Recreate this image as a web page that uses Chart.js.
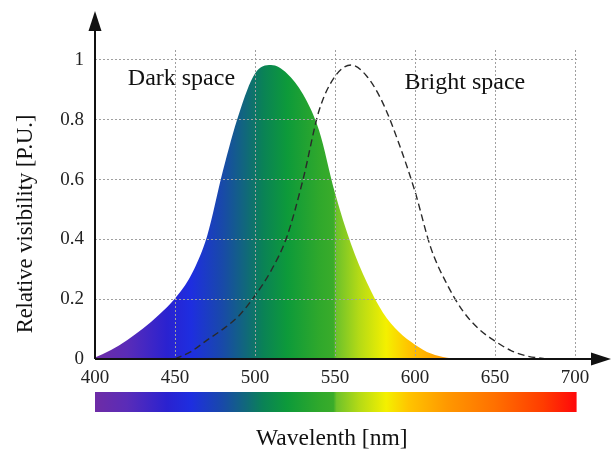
<!DOCTYPE html>
<html><head><meta charset="utf-8">
<script src="https://cdn.jsdelivr.net/npm/chart.js@4.4.1/dist/chart.umd.min.js"></script>
<style>html,body{margin:0;padding:0;background:#fff;overflow:hidden}</style>
</head><body>
<canvas id="c" width="611" height="452"></canvas>
<script>
// ---- data ----
const wavelengths = [400,410,420,430,440,450,460,470,480,490,500,510,520,530,540,550,560,570,580,590,600,610,620,630,640,650,660,670,680,690,700];
const darkSpace   = [0.005,0.030,0.063,0.102,0.148,0.202,0.280,0.410,0.630,0.820,0.955,0.983,0.955,0.885,0.765,0.555,0.385,0.255,0.155,0.090,0.048,0.018,0.004,0,null,null,null,null,null,null,null];
const brightSpace = [null,null,null,null,null,0,0.025,0.063,0.100,0.145,0.212,0.295,0.410,0.600,0.830,0.945,0.983,0.945,0.855,0.720,0.560,0.370,0.250,0.160,0.100,0.060,0.028,0.010,0.002,0,null];
const xTickValues = [400,450,500,550,600,650,700];
const yTickValues = [0,0.2,0.4,0.6,0.8,1];
const spectrumNm     = [400,420,445,460,480,495,505,520,540,549,551,565,582,596,620,650,680,700];
const spectrumColors = ['#6e2ca6','#5a2cb8','#2a22d0','#1e2ee0','#184aa8','#106a78','#0a8256','#0d9a3a','#2fa82c','#3aac2a','#6ec22a','#b4da16','#f4f000','#ffc400','#ff9800','#ff7000','#ff3c00','#ff0a0a'];
const darkLabel = 'Dark space';
const brightLabel = 'Bright space';
const xTitle = 'Wavelenth [nm]';
const yTitle = 'Relative visibility [P.U.]';

const SERIF = '"Liberation Serif", "Times New Roman", serif';

function spectrumGradient(ctx, xs) {
  const x0 = xs.getPixelForValue(400), x1 = xs.getPixelForValue(700);
  const g = ctx.createLinearGradient(x0, 0, x1, 0);
  spectrumNm.forEach((nm, i) => g.addColorStop((nm - 400) / 300, spectrumColors[i]));
  return g;
}

const decorPlugin = {
  id: 'decor',
  afterDraw(chart) {
    const ctx = chart.ctx, xs = chart.scales.x, ys = chart.scales.y;
    const x0 = xs.getPixelForValue(400), y0 = ys.getPixelForValue(0);
    ctx.save();
    // axes with arrows
    ctx.strokeStyle = '#111'; ctx.fillStyle = '#111'; ctx.lineWidth = 2;
    ctx.beginPath(); ctx.moveTo(x0, y0); ctx.lineTo(x0, 28); ctx.stroke();
    ctx.beginPath(); ctx.moveTo(x0, y0); ctx.lineTo(594, y0); ctx.stroke();
    ctx.beginPath(); ctx.moveTo(x0, 11); ctx.lineTo(x0 - 6.5, 31); ctx.lineTo(x0 + 6.5, 31); ctx.closePath(); ctx.fill();
    ctx.beginPath(); ctx.moveTo(611, y0); ctx.lineTo(591, y0 - 6.5); ctx.lineTo(591, y0 + 6.5); ctx.closePath(); ctx.fill();
    // color bar
    const cx0 = xs.getPixelForValue(400), cx1 = xs.getPixelForValue(701);
    ctx.fillStyle = spectrumGradient(ctx, xs);
    ctx.fillRect(cx0, y0 + 33, cx1 - cx0, 20);
    // texts
    ctx.fillStyle = '#111';
    ctx.font = '24px ' + SERIF;
    ctx.textAlign = 'left'; ctx.textBaseline = 'alphabetic';
    ctx.fillText(darkLabel, xs.getPixelForValue(420.5), ys.getPixelForValue(0.915));
    ctx.fillText(brightLabel, xs.getPixelForValue(593.5), ys.getPixelForValue(0.902));
    ctx.font = '23.5px ' + SERIF;
    ctx.textAlign = 'center';
    ctx.fillText(xTitle, xs.getPixelForValue(548), 445);
    ctx.font = '22.5px ' + SERIF;
    ctx.translate(32, 224); ctx.rotate(-Math.PI / 2);
    ctx.fillText(yTitle, 0, 0);
    ctx.restore();
  }
};

new Chart(document.getElementById('c'), {
  type: 'line',
  data: {
    datasets: [
      {
        label: darkLabel,
        data: wavelengths.map((w, i) => ({x: w, y: darkSpace[i]})),
        fill: 'origin',
        backgroundColor: (c) => { const ch = c.chart; if (!ch.chartArea) return 'transparent'; return spectrumGradient(ch.ctx, ch.scales.x); },
        borderWidth: 0,
        borderColor: 'transparent',
        pointRadius: 0,
        cubicInterpolationMode: 'monotone',
        spanGaps: false,
        order: 2
      },
      {
        label: brightLabel,
        data: wavelengths.map((w, i) => ({x: w, y: brightSpace[i]})),
        fill: false,
        borderColor: '#2a2a2a',
        borderWidth: 1.4,
        borderDash: [7, 4],
        pointRadius: 0,
        cubicInterpolationMode: 'monotone',
        order: 1
      }
    ]
  },
  options: {
    responsive: false,
    animation: false,
    devicePixelRatio: 1,
    layout: {padding: {left: 0, right: 34, top: 50, bottom: 0}},
    plugins: {legend: {display: false}, tooltip: {enabled: false}},
    scales: {
      x: {
        type: 'linear', min: 400, max: 701.25,
        afterBuildTicks: (s) => { s.ticks = xTickValues.map(v => ({value: v})); },
        afterFit: (s) => { s.height = 93; },
        ticks: {font: {family: SERIF, size: 19}, color: '#222', padding: 8, maxRotation: 0, autoSkip: false, callback: (v) => String(v)},
        grid: {color: (c) => c.tick && c.tick.value === 400 ? 'transparent' : '#a0a0a0', lineWidth: 1, drawTicks: false, z: 1},
        border: {display: false, dash: [2, 2]}
      },
      y: {
        type: 'linear', min: 0, max: 1.0334,
        afterBuildTicks: (s) => { s.ticks = yTickValues.map(v => ({value: v})); },
        afterFit: (s) => { s.width = 95; },
        ticks: {font: {family: SERIF, size: 19}, color: '#222', padding: 11, autoSkip: false, callback: (v) => String(v)},
        grid: {color: (c) => c.tick && c.tick.value === 0 ? 'transparent' : '#a0a0a0', lineWidth: 1, drawTicks: false, z: 1},
        border: {display: false, dash: [2, 2]}
      }
    }
  },
  plugins: [decorPlugin]
});
</script>
</body></html>
